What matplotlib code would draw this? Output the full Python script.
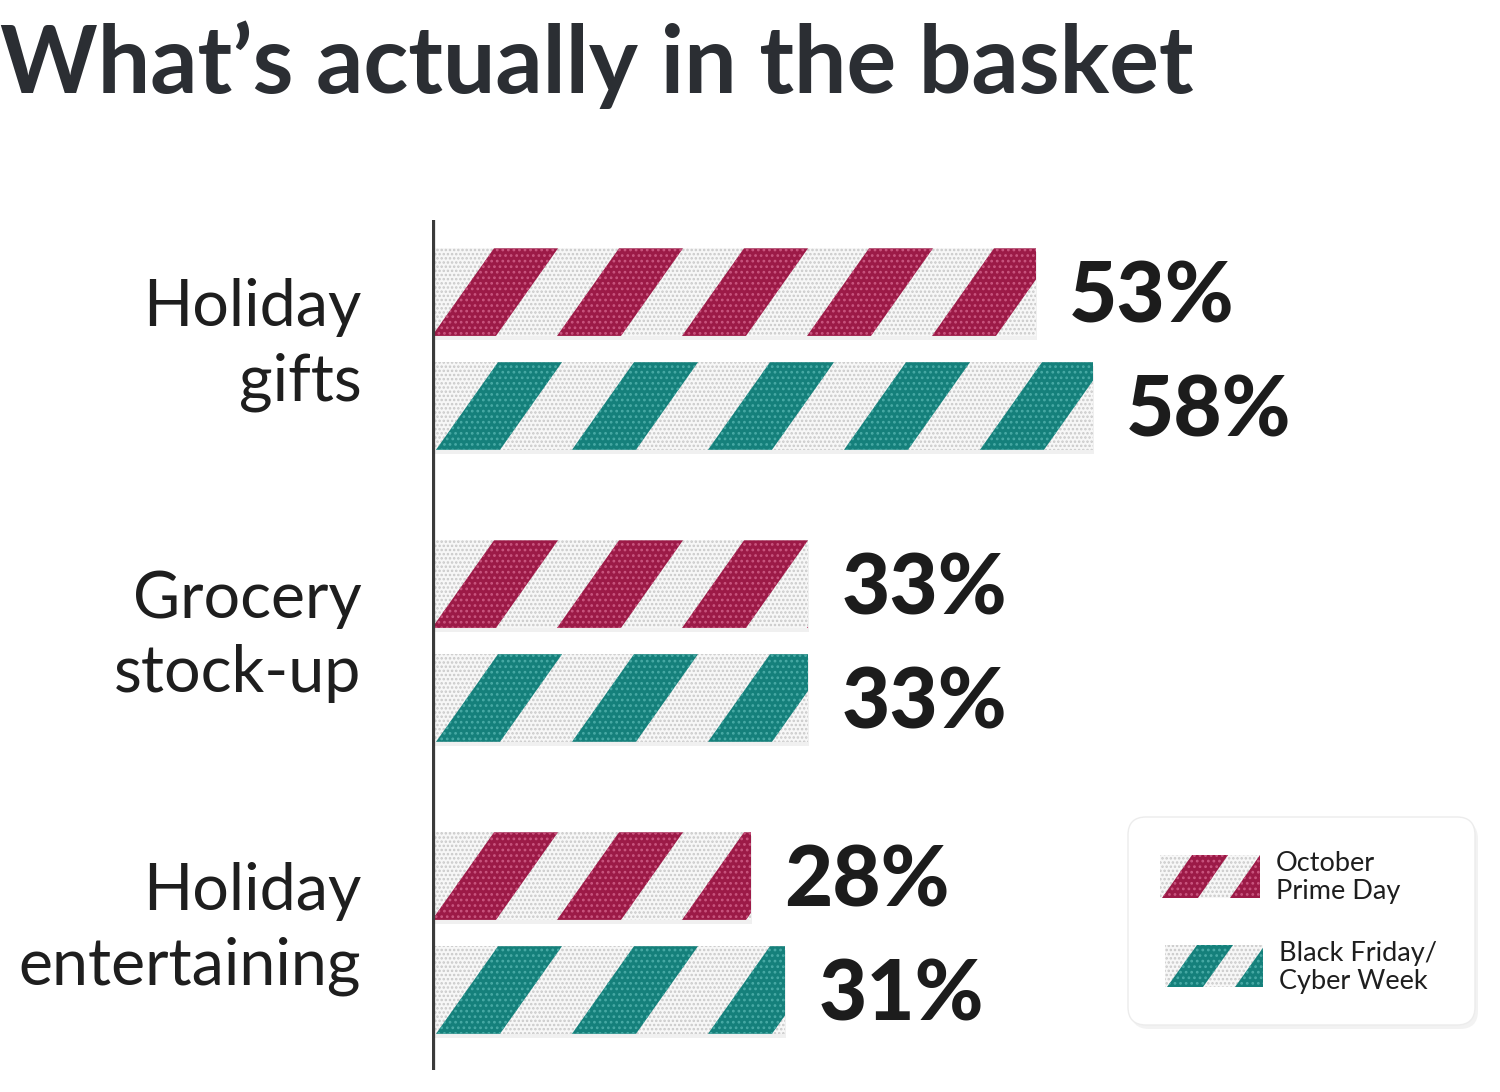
import numpy as np
import matplotlib.pyplot as plt
from matplotlib.patches import Polygon, FancyBboxPatch, Rectangle

plt.rcParams['font.family'] = ['Lato', 'DejaVu Sans']
plt.rcParams['hatch.linewidth'] = 1.2

categories = ['Holiday\ngifts', 'Grocery\nstock-up', 'Holiday\nentertaining']
prime_day = [53, 33, 28]
black_friday = [58, 33, 31]
series_names = ['October\nPrime Day', 'Black Friday/\nCyber Week']

red, red_dot = '#9c1a47', '#c9557f'
teal, teal_dot = '#15807b', '#48aaa5'
dark = '#2b2e33'

W, H = 1500, 1092
fig = plt.figure(figsize=(W / 100, H / 100), dpi=100)


def fpos(x0, y0, x1, y1):
    # pixel box -> figure fraction
    return [x0 / W, 1 - y1 / H, (x1 - x0) / W, (y1 - y0) / H]


ax = fig.add_axes(fpos(432, 220, 1500, 1070))
ax.set_xlim(0, 93.7)
ax.set_ylim(2.469, -0.442)
ax.axis('off')
ax.axvline(0, color='#3a3a3a', lw=4.5, zorder=5)

y = np.arange(len(categories))
off = 0.195
bh = 0.3


def px_per_unit(a):
    p0 = a.transData.transform((0, 0))
    p1 = a.transData.transform((1, 1))
    return abs(p1[0] - p0[0]), abs(p1[1] - p0[1])


def add_stripes(a, bar, color, dot, per, sw, sh, phase=0):
    # diagonal stripes clipped to the bar rectangle
    x0, y0 = bar.get_x(), bar.get_y()
    w, h = bar.get_width(), bar.get_height()
    yb, yt = y0 + h, y0
    s = x0 + phase - per
    while s < x0 + w + per:
        poly = Polygon([(s, yb), (s + sw, yb), (s + sw + sh, yt), (s + sh, yt)],
                       closed=True, facecolor=color, edgecolor=dot,
                       hatch='...', lw=0, zorder=3)
        a.add_patch(poly)
        poly.set_clip_path(bar)
        s += per


def fabric(a, yc, w, h, color, dot, period_px, phase_px=0):
    sx, sy = px_per_unit(a)
    # soft shadow
    a.barh(yc + 4 / sy, w + 3 / sx, height=h, left=-0.2, color='#000000', alpha=0.06, zorder=1)
    bars = a.barh(yc, w, height=h, color='#f7f7f7', edgecolor='#c9c9c9',
                  hatch='....', lw=0, zorder=2)
    add_stripes(a, bars[0], color, dot, period_px / sx, 64 / sx, 62 / sx, phase_px / sx)
    return bars


for i in range(len(categories)):
    fabric(ax, y[i] - off, prime_day[i], bh, red, red_dot, 125)
    fabric(ax, y[i] + off, black_friday[i], bh, teal, teal_dot, 136, phase_px=4)
    ax.text(prime_day[i] + 2.9, y[i] - off + 0.02, f'{prime_day[i]}%', va='center', ha='left',
            fontsize=60, fontweight='black', color='#1c1c1c')
    ax.text(black_friday[i] + 2.9, y[i] + off + 0.02, f'{black_friday[i]}%', va='center', ha='left',
            fontsize=60, fontweight='black', color='#1c1c1c')
    ax.text(-6.2, y[i] - 0.015, categories[i], va='center', ha='right', fontsize=46.5,
            color='#1e1e1e', linespacing=1.32)

fig.text(0.0, 1 - 65 / H, "What\u2019s actually in the basket", fontsize=67,
         fontweight='bold', color=dark, va='center', ha='left')

# legend
leg = fig.add_axes(fpos(1110, 800, 1495, 1045))
leg.set_xlim(1110, 1495)
leg.set_ylim(1045, 800)
leg.axis('off')
leg.add_patch(FancyBboxPatch((1131, 821), 347, 208, boxstyle='round,pad=0,rounding_size=18',
                             facecolor='#000000', alpha=0.05, lw=0, zorder=0))
leg.add_patch(FancyBboxPatch((1128, 817), 347, 208, boxstyle='round,pad=0,rounding_size=18',
                             facecolor='white', edgecolor='#ececec', lw=1, zorder=1))
for (x0, y0, x1, y1), c, d, name, tx in [((1160, 855, 1260, 898), red, red_dot, series_names[0], 1276),
                                          ((1165, 945, 1263, 987), teal, teal_dot, series_names[1], 1279)]:
    sw = Rectangle((x0, y0), x1 - x0, y1 - y0, facecolor='#f7f7f7', edgecolor='#c9c9c9',
                   hatch='....', lw=0, zorder=2)
    leg.add_patch(sw)
    s = x0 - 66
    while s < x1 + 66:
        p = Polygon([(s, y1), (s + 36, y1), (s + 66, y0), (s + 30, y0)], facecolor=c,
                    edgecolor=d, hatch='...', lw=0, zorder=3)
        leg.add_patch(p)
        p.set_clip_path(sw)
        s += 68
    leg.text(tx, (y0 + y1) / 2 + 1, name, va='center', ha='left', fontsize=19.5,
             color='#1e1e1e', linespacing=1.15, zorder=4)

fig.savefig('out.png', dpi=100, facecolor='white')
